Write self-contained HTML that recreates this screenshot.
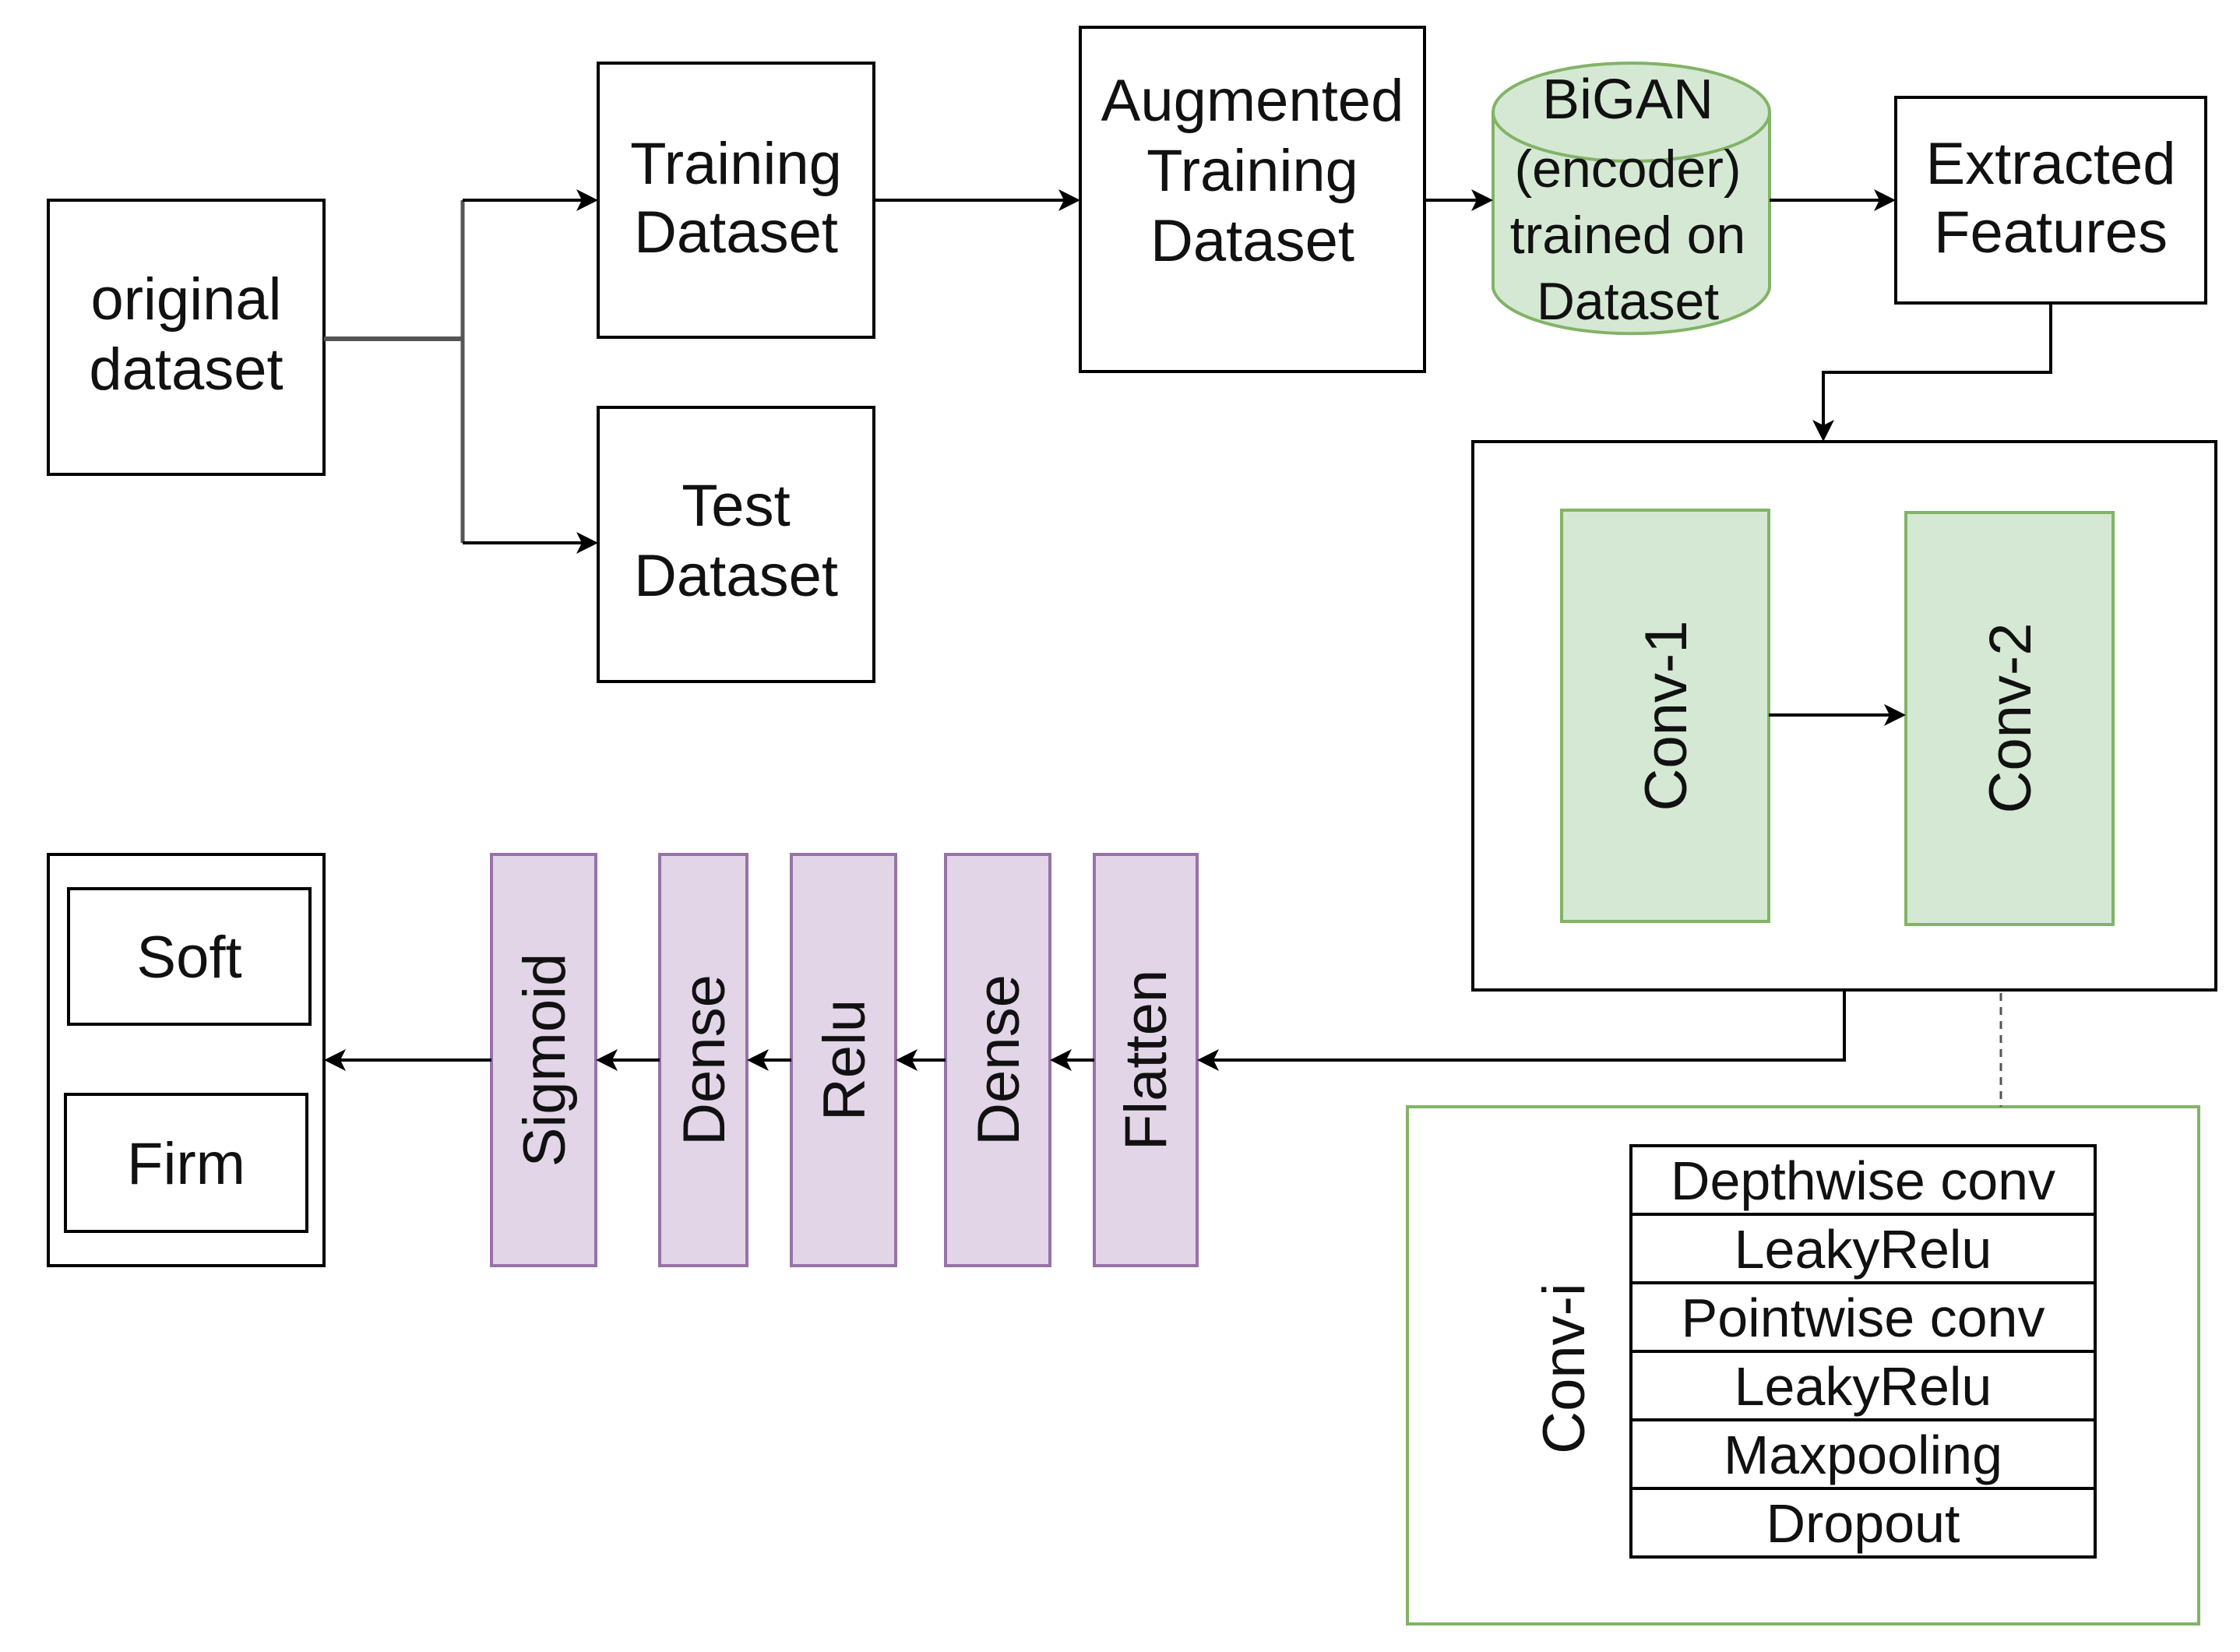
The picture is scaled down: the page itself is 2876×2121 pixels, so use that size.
<!DOCTYPE html>
<html><head><meta charset="utf-8"><style>
html,body{margin:0;padding:0;background:#fff}
svg{display:block}
text{font-family:"Liberation Sans",Arial,sans-serif;fill:#111}
</style></head><body>
<svg width="2876" height="2121" viewBox="0 0 2876 2121" xmlns="http://www.w3.org/2000/svg">
<defs>
<marker id="a" markerWidth="12" markerHeight="12" refX="10" refY="6" orient="auto" markerUnits="userSpaceOnUse" viewBox="0 0 12 12">
</marker>
</defs>
<g fill="none" stroke="#000" stroke-width="4">
<rect x="62" y="257" width="354" height="352"/>
<rect x="768" y="81" width="354" height="352"/>
<rect x="768" y="523" width="354" height="352"/>
<rect x="1387" y="35" width="442" height="442"/>
<rect x="2434" y="125" width="398" height="264"/>
<rect x="1891" y="567" width="954" height="704"/>
<rect x="62" y="1097" width="354" height="528"/>
<rect x="88" y="1141" width="310" height="174"/>
<rect x="84" y="1405" width="310" height="176"/>
</g>
<!-- cylinder -->
<g stroke="#82b366" stroke-width="4" fill="#d5e8d4">
<path d="M1917 144 L1917 370 A178 63 0 0 0 2272 370 L2272 144"/>
<ellipse cx="2094.5" cy="144" rx="177.5" ry="63"/>
</g>
<!-- conv boxes -->
<g stroke="#82b366" stroke-width="4" fill="#d5e8d4">
<rect x="2005" y="655" width="266" height="528"/>
<rect x="2447" y="658" width="266" height="529"/>
</g>
<rect x="1807" y="1421" width="1016" height="664" fill="none" stroke="#82b366" stroke-width="4"/>
<g stroke="#9673a6" stroke-width="4" fill="#e1d5e7">
<rect x="631" y="1097" width="134" height="528"/>
<rect x="847" y="1097" width="112" height="528"/>
<rect x="1016" y="1097" width="134" height="528"/>
<rect x="1214" y="1097" width="134" height="528"/>
<rect x="1405" y="1097" width="132" height="528"/>
</g>
<!-- table -->
<g fill="#fff" stroke="#000" stroke-width="4">
<rect x="2094" y="1471" width="596" height="88"/>
<rect x="2094" y="1559" width="596" height="88"/>
<rect x="2094" y="1647" width="596" height="88"/>
<rect x="2094" y="1735" width="596" height="88"/>
<rect x="2094" y="1823" width="596" height="88"/>
<rect x="2094" y="1911" width="596" height="88"/>
</g>
<!-- connectors -->
<g fill="none" stroke="#000" stroke-width="4">
<path d="M416 435 H594" stroke="#555" stroke-width="6"/>
<path d="M594 257 V697" stroke="#555" stroke-width="5"/>
<path d="M594 257 H752"/><path d="M594 697 H752"/>
<path d="M1122 257 H1371"/>
<path d="M1829 257 H1901"/>
<path d="M2272 257 H2418"/>
<path d="M2633 389 V478 H2341 V551"/>
<path d="M2271 918 H2431"/>
<path d="M2368 1271 V1361 H1553"/>
<path d="M1405 1361 H1365"/><path d="M1214 1361 H1166"/><path d="M1016 1361 H975"/><path d="M847 1361 H781"/><path d="M631 1361 H432"/>
<path d="M2569 1275 V1421" stroke="#555" stroke-width="3" stroke-dasharray="10 8"/>
</g>
<g fill="#000">
<path d="M768 257 l-28 -14 l7 14 l-7 14z"/>
<path d="M768 697 l-28 -14 l7 14 l-7 14z"/>
<path d="M1387 257 l-28 -14 l7 14 l-7 14z"/>
<path d="M1917 257 l-28 -14 l7 14 l-7 14z"/>
<path d="M2434 257 l-28 -14 l7 14 l-7 14z"/>
<path d="M2341 567 l-14 -28 l14 7 l14 -7z"/>
<path d="M2447 918 l-28 -14 l7 14 l-7 14z"/>
<path d="M1537 1361 l28 -14 l-7 14 l7 14z"/>
<path d="M1348 1361 l28 -14 l-7 14 l7 14z"/>
<path d="M1150 1361 l28 -14 l-7 14 l7 14z"/>
<path d="M959 1361 l28 -14 l-7 14 l7 14z"/>
<path d="M765 1361 l28 -14 l-7 14 l7 14z"/>
<path d="M416 1361 l28 -14 l-7 14 l7 14z"/>
</g>
<!-- text -->
<g font-size="76" text-anchor="middle">
<text x="239" y="410">original</text><text x="239" y="500">dataset</text>
<text x="945" y="236">Training</text><text x="945" y="324">Dataset</text>
<text x="945" y="675">Test</text><text x="945" y="765">Dataset</text>
<text x="1608" y="155">Augmented</text><text x="1608" y="245">Training</text><text x="1608" y="335">Dataset</text>
<text x="2090" y="152" font-size="72">BiGAN</text>
<text x="2090" y="240" font-size="68">(encoder)</text>
<text x="2090" y="325" font-size="68">trained on</text>
<text x="2090" y="410" font-size="68">Dataset</text>
<text x="2633" y="236">Extracted</text><text x="2633" y="324">Features</text>
<text x="243" y="1255">Soft</text>
<text x="239" y="1520">Firm</text>
</g>
<g font-size="76" text-anchor="middle">
<text transform="translate(2165 919) rotate(-90)">Conv-1</text>
<text transform="translate(2607 922) rotate(-90)">Conv-2</text>
<text transform="translate(725 1361) rotate(-90)">Sigmoid</text>
<text transform="translate(930 1361) rotate(-90)">Dense</text>
<text transform="translate(1110 1361) rotate(-90)">Relu</text>
<text transform="translate(1308 1361) rotate(-90)">Dense</text>
<text transform="translate(1497 1361) rotate(-90)">Flatten</text>
<text transform="translate(2034 1757) rotate(-90)">Conv-i</text>
</g>
<g font-size="70" text-anchor="middle">
<text x="2392" y="1540">Depthwise conv</text>
<text x="2392" y="1628">LeakyRelu</text>
<text x="2392" y="1716">Pointwise conv</text>
<text x="2392" y="1804">LeakyRelu</text>
<text x="2392" y="1892">Maxpooling</text>
<text x="2392" y="1980">Dropout</text>
</g>
</svg>
</body></html>
